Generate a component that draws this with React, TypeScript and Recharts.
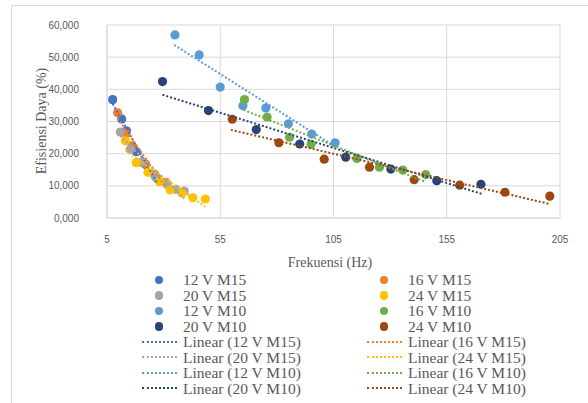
import { ScatterChart, Scatter, XAxis, YAxis, CartesianGrid } from "recharts";

// measured points [frekuensi (Hz), efisiensi daya (%)]
const s12M15 = [[7.5, 36.8], [11.5, 30.8], [13.6, 27.1], [18, 20.6], [22, 16.6], [27, 12.4]];
const s16M15 = [[9.7, 32.7], [13.4, 26.2], [16, 22.4], [21.6, 17], [26, 13.6], [31, 11.1]];
const s20M15 = [[10.9, 26.7], [15.3, 21.4], [20, 17.3], [26.3, 12.8], [31.5, 10.4], [35.4, 8.9], [39.1, 8.4]];
const s24M15 = [[13.1, 24], [17.9, 17.2], [23.1, 14.2], [28.2, 11.3], [32.9, 8.7], [38.1, 7.7], [42.9, 6.3], [48.4, 5.9]];
const s12M10 = [[35, 56.9], [45.7, 50.7], [55, 40.7], [65, 34.9], [75.1, 34.2], [85.1, 29.3], [95.4, 26.1], [105.7, 23.4]];
const s16M10 = [[65.7, 36.8], [75.7, 31.4], [85.6, 25.1], [95.1, 22.9], [115.3, 18.5], [125.3, 15.8], [135.6, 14.9], [145.7, 13.5]];
const s20M10 = [[29.5, 42.4], [49.8, 33.4], [70.9, 27.5], [90.1, 23], [110.4, 18.9], [130.3, 15.2], [150.6, 11.6], [170.1, 10.5]];
const s24M10 = [[60.3, 30.7], [80.9, 23.4], [100.9, 18.3], [120.9, 15.8], [140.6, 11.9], [160.7, 10.2], [180.7, 8], [200.5, 6.8]];

// linear trendline ends
const t12M15 = [[7.5, 35.5], [27, 11]];
const t16M15 = [[9.7, 31], [31, 9.5]];
const t20M15 = [[10.9, 25.5], [39.1, 6]];
const t24M15 = [[13.1, 21], [48.4, 3.5]];
const t12M10 = [[34.7, 53.8], [105.7, 22.2]];
const t16M10 = [[65.3, 33.6], [145.4, 11.3]];
const t20M10 = [[29.5, 38.3], [170.9, 7.4]];
const t24M10 = [[59.7, 27.4], [200.2, 4.4]];

const X_TICKS = [5, 55, 105, 155, 205];
const Y_TICKS = [0, 10, 20, 30, 40, 50, 60];

const SERIES = [
  { name: "12 V M15", color: "#4472C4", pts: s12M15, trend: t12M15 },
  { name: "16 V M15", color: "#ED7D31", pts: s16M15, trend: t16M15 },
  { name: "20 V M15", color: "#A5A5A5", pts: s20M15, trend: t20M15 },
  { name: "24 V M15", color: "#FFC000", pts: s24M15, trend: t24M15 },
  { name: "12 V M10", color: "#5B9BD5", pts: s12M10, trend: t12M10 },
  { name: "16 V M10", color: "#70AD47", pts: s16M10, trend: t16M10 },
  { name: "20 V M10", color: "#264478", pts: s20M10, trend: t20M10 },
  { name: "24 V M10", color: "#9E480E", pts: s24M10, trend: t24M10 },
];

const toXY = (arr: number[][]) => arr.map(([x, y]) => ({ x, y }));

const serif = "'Liberation Serif', 'Times New Roman', serif";
const sans = "'Liberation Sans', Arial, sans-serif";

const LegendRow = ({ s, trend }: { s: (typeof SERIES)[number]; trend: boolean }) => (
  <div style={{ display: "flex", alignItems: "center", height: 15.5 }}>
    <div style={{ width: 36, display: "flex", justifyContent: "center" }}>
      {trend ? (
        <div style={{ width: 35, borderTop: `2px dotted ${s.color}` }} />
      ) : (
        <div style={{ width: 8.5, height: 8.5, borderRadius: "50%", background: s.color }} />
      )}
    </div>
    <span style={{ marginLeft: 6, whiteSpace: "nowrap" }}>{trend ? `Linear (${s.name})` : s.name}</span>
  </div>
);

export default function App() {
  const left = SERIES.filter((_, i) => i % 2 === 0);
  const right = SERIES.filter((_, i) => i % 2 === 1);
  return (
    <div style={{ position: "absolute", left: 0, top: 0, width: 588, height: 403, background: "#fff", overflow: "hidden" }}>
      <div
        style={{
          position: "absolute",
          left: 11,
          top: 5,
          width: 590,
          height: 410,
          border: "1px solid #d9d9d9",
          boxSizing: "border-box",
        }}
      />
      <ScatterChart
        width={588}
        height={260}
        margin={{ top: 25, right: 28, left: 0, bottom: 20 }}
        style={{ position: "absolute", left: 0, top: 0 }}
      >
        <CartesianGrid stroke="#d9d9d9" strokeWidth={1} />
        <XAxis
          type="number"
          dataKey="x"
          domain={[5, 205]}
          ticks={X_TICKS}
          height={22}
          tickLine={false}
          axisLine={{ stroke: "#d9d9d9" }}
          tickMargin={12}
          tick={{ fill: "#595959", fontSize: 10, fontFamily: sans }}
        />
        <YAxis
          type="number"
          dataKey="y"
          domain={[0, 60]}
          ticks={Y_TICKS}
          width={107}
          tickLine={false}
          axisLine={{ stroke: "#d9d9d9" }}
          tickMargin={22}
          tickFormatter={(v: number) => v.toFixed(3).replace(".", ",")}
          tick={{ fill: "#595959", fontSize: 10, fontFamily: sans }}
        />
        {SERIES.map((s) => (
          <Scatter
            key={s.name}
            name={s.name}
            data={toXY(s.pts)}
            isAnimationActive={false}
            shape={(p: any) => <circle cx={p.cx} cy={p.cy} r={4.6} fill={s.color} />}
          />
        ))}
        {SERIES.map((s) => (
          <Scatter
            key={"t" + s.name}
            name={`Linear (${s.name})`}
            data={toXY(s.trend)}
            isAnimationActive={false}
            line={{ stroke: s.color, strokeWidth: 2, strokeDasharray: "2 2" }}
            shape={() => <g />}
          />
        ))}
      </ScatterChart>
      <div
        style={{
          position: "absolute",
          left: 42,
          top: 121,
          width: 0,
          height: 0,
        }}
      >
        <div
          style={{
            position: "absolute",
            left: 0,
            top: 0,
            transform: "translate(-50%, -50%) rotate(-90deg)",
            whiteSpace: "nowrap",
            fontFamily: serif,
            fontSize: 14,
            color: "#595959",
          }}
        >
          Efisiensi Daya (%)
        </div>
      </div>
      <div
        style={{
          position: "absolute",
          left: 330,
          top: 263,
          transform: "translate(-50%, -50%)",
          whiteSpace: "nowrap",
          fontFamily: serif,
          fontSize: 14,
          color: "#595959",
        }}
      >
        Frekuensi (Hz)
      </div>
      <div
        style={{
          position: "absolute",
          top: 272,
          left: 141,
          display: "flex",
          fontFamily: serif,
          fontSize: 15.5,
          color: "#595959",
          lineHeight: "15.5px",
        }}
      >
        <div style={{ width: 225 }}>
          {left.map((s) => <LegendRow key={s.name} s={s} trend={false} />)}
          {left.map((s) => <LegendRow key={"t" + s.name} s={s} trend={true} />)}
        </div>
        <div>
          {right.map((s) => <LegendRow key={s.name} s={s} trend={false} />)}
          {right.map((s) => <LegendRow key={"t" + s.name} s={s} trend={true} />)}
        </div>
      </div>
    </div>
  );
}
